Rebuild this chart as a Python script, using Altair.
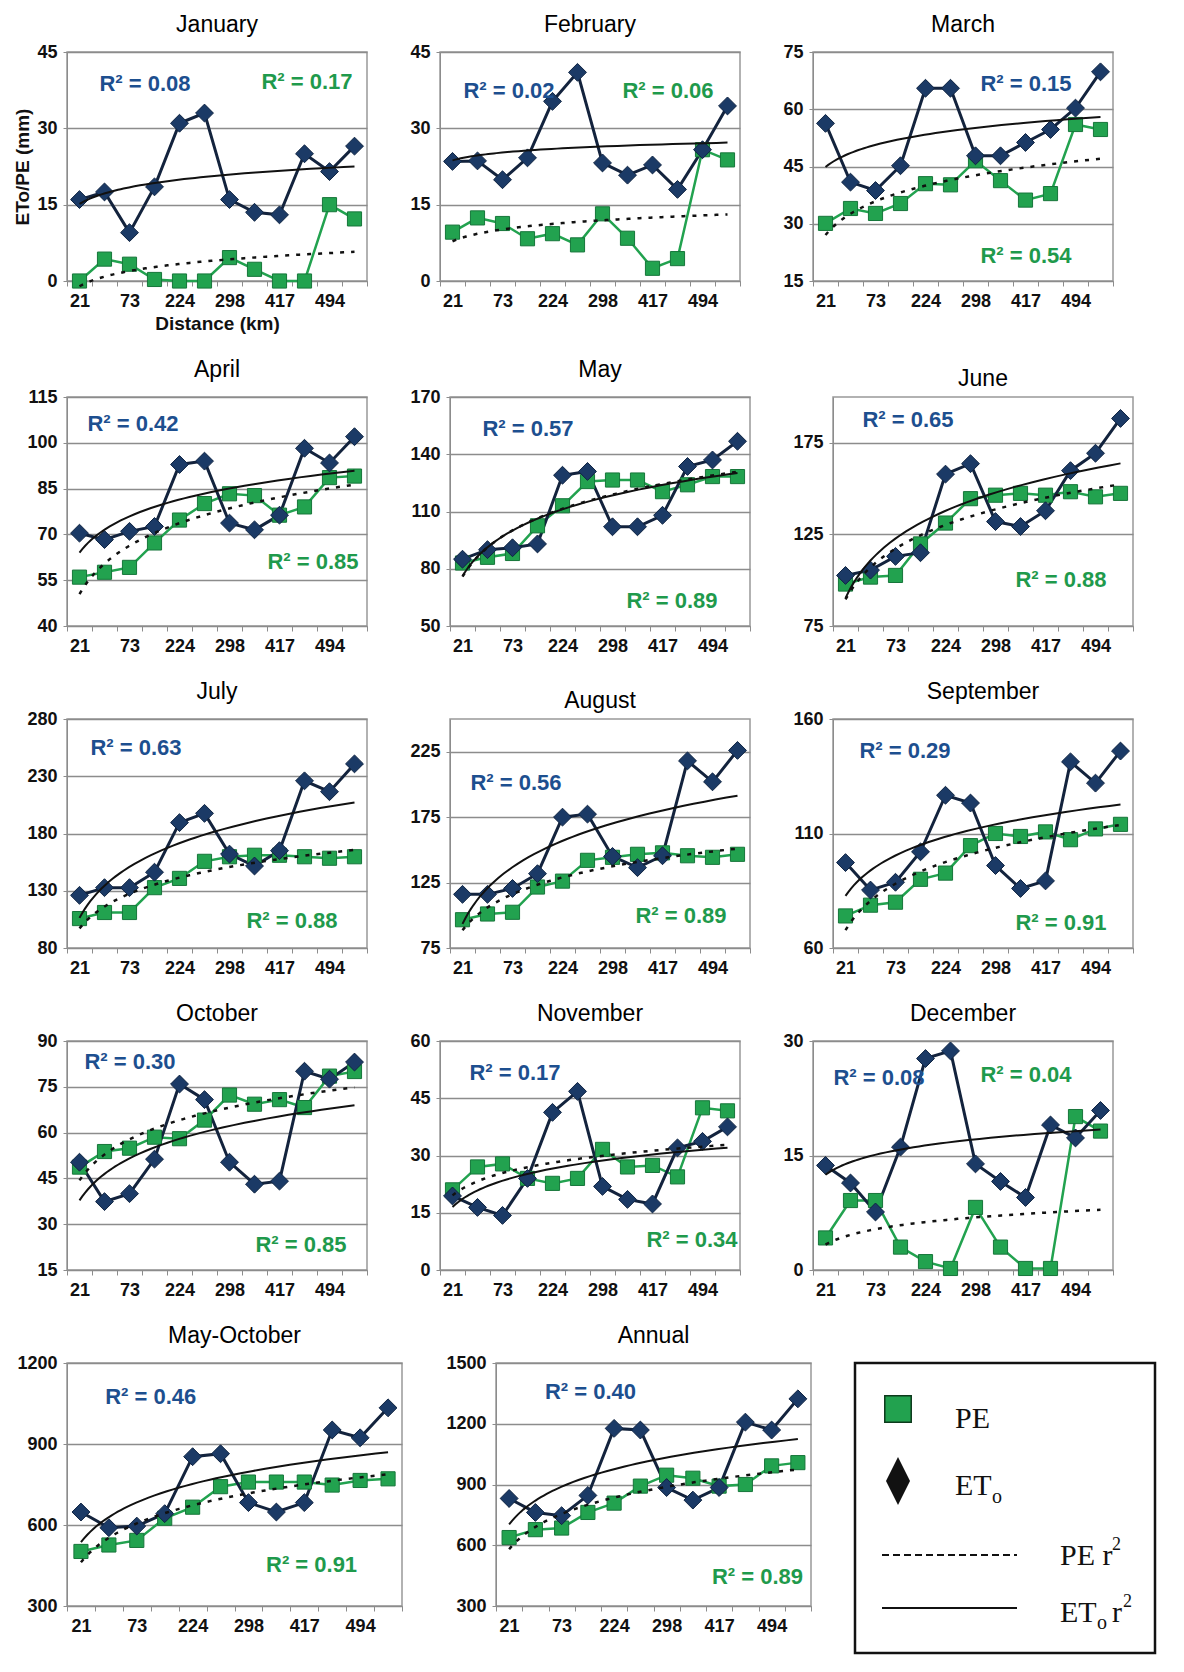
import altair as alt
import pandas as pd

# ---------------- data ----------------
x_index = list(range(1, 13))
x_tick_labels = ["21", "73", "224", "298", "417", "494"]   # every other station

panel_names = ["January", "February", "March", "April", "May", "June",
               "July", "August", "September", "October", "November", "December",
               "May-October", "Annual"]

eto_jan = [16, 17.5, 9.5, 18.5, 31, 33, 16, 13.5, 13, 25, 21.5, 26.5]
pe_jan = [0, 4.3, 3.3, 0.3, 0, 0, 4.6, 2.3, 0, 0, 15, 12.2]
eto_feb = [23.5, 23.6, 19.9, 24.2, 35.3, 41, 23.2, 20.8, 22.8, 18, 25.8, 34.4]
pe_feb = [9.6, 12.4, 11.3, 8.3, 9.3, 7.1, 13.2, 8.4, 2.5, 4.4, 25.8, 23.8]
eto_mar = [56.3, 40.9, 38.7, 45.2, 65.5, 65.5, 47.8, 47.8, 51.3, 54.7, 60.3, 69.8]
pe_mar = [30.1, 34, 32.7, 35.3, 40.5, 40.2, 46.5, 41.3, 36.2, 37.9, 56, 54.7]
eto_apr = [70.4, 68.3, 71, 72.6, 92.9, 94, 73.7, 71.5, 76.3, 98.2, 93.4, 102]
pe_apr = [56, 57.6, 59.2, 67.2, 74.7, 80.1, 83.3, 82.7, 76.3, 79, 88.6, 89.1]
eto_may = [85, 90, 91, 93, 129, 131, 102, 102, 108, 133.6, 137, 146.8]
pe_may = [83, 86, 88, 102.5, 113, 125.7, 126.5, 126.5, 120.4, 124, 128.3, 128.3]
eto_jun = [102.6, 105.5, 113, 115, 157.9, 163.6, 132, 129.3, 137.9, 159.8, 169.3, 188.3]
pe_jun = [97.9, 101.7, 102.6, 119.8, 131.2, 144.5, 146.4, 147.4, 146.4, 148.3, 145.5, 147.4]
eto_jul = [126, 132.7, 132.7, 146.2, 189.5, 197.6, 162, 151.6, 165, 226, 216.5, 240.8]
pe_jul = [105.7, 111, 111, 132.7, 140.8, 155.7, 159.7, 161, 161, 159.7, 158.4, 159.7]
eto_aug = [116, 116, 120.5, 131.8, 175, 177.3, 145, 136.4, 145.5, 218, 202, 226]
pe_aug = [96.6, 101, 102.3, 121.6, 126.1, 142, 144.3, 146.6, 147.7, 145.5, 144.3, 146.6]
eto_sep = [97.3, 85.3, 88.7, 102, 126.7, 123.3, 96, 86, 89.3, 141.3, 132, 146]
pe_sep = [74, 78.7, 80, 90, 92.7, 104.7, 110, 108.7, 110.7, 107.3, 112, 114]
eto_oct = [50.3, 37.4, 40, 51.3, 75.9, 70.8, 50.3, 43.1, 44.1, 80.1, 77.5, 83.1]
pe_oct = [48.7, 53.8, 54.9, 58.5, 58, 64.1, 72.3, 69.3, 70.8, 68.2, 78.5, 80]
eto_nov = [19.4, 16.4, 14.3, 24, 41.3, 46.8, 21.9, 18.5, 17.3, 32, 33.7, 37.5]
pe_nov = [21, 27, 27.8, 24, 22.7, 24, 31.6, 27, 27.4, 24.4, 42.5, 41.7]
eto_dec = [13.7, 11.4, 7.6, 16.1, 27.7, 28.7, 13.9, 11.6, 9.5, 19, 17.3, 20.9]
pe_dec = [4.2, 9.1, 9.1, 3, 1.1, 0.2, 8.2, 3, 0.2, 0.2, 20.1, 18.2]
eto_mayoct = [648, 590, 596, 642, 853, 864, 683, 648, 683, 952, 923, 1034]
pe_mayoct = [502, 526, 543, 625, 666, 742, 759, 759, 759, 748, 765, 771]
eto_annual = [831, 762, 746, 846, 1177, 1169, 885, 823, 885, 1208, 1169, 1323]
pe_annual = [638, 677, 685, 762, 808, 892, 946, 931, 892, 900, 992, 1008]

eto_series = [eto_jan, eto_feb, eto_mar, eto_apr, eto_may, eto_jun, eto_jul,
              eto_aug, eto_sep, eto_oct, eto_nov, eto_dec, eto_mayoct, eto_annual]
pe_series = [pe_jan, pe_feb, pe_mar, pe_apr, pe_may, pe_jun, pe_jul,
             pe_aug, pe_sep, pe_oct, pe_nov, pe_dec, pe_mayoct, pe_annual]

r2_eto = [0.08, 0.02, 0.15, 0.42, 0.57, 0.65, 0.63, 0.56, 0.29, 0.30, 0.17, 0.08, 0.46, 0.40]
r2_pe = [0.17, 0.06, 0.54, 0.85, 0.89, 0.88, 0.88, 0.89, 0.91, 0.85, 0.34, 0.04, 0.91, 0.89]

# ---------------- layout / style (not data) ----------------
y_scales = [(0, 45, 15), (0, 45, 15), (15, 75, 15), (40, 115, 15), (50, 170, 30),
            (75, 200, 50), (80, 280, 50), (75, 250, 50), (60, 160, 50), (15, 90, 15),
            (0, 60, 15), (0, 30, 15), (300, 1200, 300), (300, 1500, 300)]
# relative (x, y) placement of the R² labels inside each plot
eto_lab_pos = [(0.26, 0.14), (0.23, 0.17), (0.71, 0.14), (0.22, 0.12), (0.26, 0.14),
               (0.25, 0.10), (0.23, 0.125), (0.22, 0.28), (0.24, 0.14), (0.21, 0.09),
               (0.25, 0.14), (0.22, 0.16), (0.25, 0.14), (0.30, 0.12)]
pe_lab_pos = [(0.80, 0.13), (0.76, 0.17), (0.71, 0.89), (0.82, 0.72), (0.74, 0.89),
              (0.76, 0.80), (0.75, 0.88), (0.77, 0.86), (0.76, 0.89), (0.78, 0.89),
              (0.84, 0.87), (0.71, 0.15), (0.73, 0.83), (0.83, 0.88)]

FONT = "Liberation Sans, Arial"
SERIF = "Liberation Serif, Times New Roman, serif"
BLUE_TXT = "#1d4f8f"
GREEN_TXT = "#1f9a4c"
NAVY = "#1b3a66"
NAVY_LINE = "#13233d"
GREEN = "#22a24f"
GREEN_DARK = "#16763a"
GRID = "#8c8c8c"

W, H = 300, 229
W_ROW5 = [335, 315]

bounds = [0.5 + i for i in range(13)]
expr_parts = [f"datum.value == {0.5 + 2 * k} ? '{lab}'" for k, lab in enumerate(x_tick_labels)]
x_label_expr = " : ".join(expr_parts) + " : ''"


def make_panel(i, w, h):
    name = panel_names[i]
    eto, pe = eto_series[i], pe_series[i]
    df = pd.DataFrame({"idx": x_index * 2, "val": eto + pe,
                       "series": ["ETo"] * 12 + ["PE"] * 12})
    lo, hi, step = y_scales[i]
    yticks = list(range(lo, hi + 1, step))

    xaxis_kw = dict(values=bounds, labelExpr=x_label_expr, labelOffset=w / 24,
                    grid=False, tickSize=5, tickColor=GRID, domainColor=GRID,
                    labelOverlap=False, labelFlush=False, labelPadding=6)
    yaxis_kw = dict(values=yticks, format="d", grid=True, gridColor=GRID, gridWidth=1.5,
                    tickSize=4, tickColor=GRID, domainColor=GRID, labelPadding=6)
    if i == 0:
        xaxis_kw["title"] = "Distance (km)"
        yaxis_kw["title"] = "ETo/PE (mm)"
    else:
        xaxis_kw["title"] = ""
        yaxis_kw["title"] = ""

    x = alt.X("idx:Q", scale=alt.Scale(domain=[0.5, 12.5], nice=False, zero=False),
              axis=alt.Axis(**xaxis_kw))
    y = alt.Y("val:Q", scale=alt.Scale(domain=[lo, hi], nice=False, zero=False),
              axis=alt.Axis(**yaxis_kw))

    base = alt.Chart(df).encode(x=x, y=y)
    pe_only = base.transform_filter(alt.datum.series == "PE")
    eto_only = base.transform_filter(alt.datum.series == "ETo")

    pe_line = pe_only.mark_line(color=GREEN, strokeWidth=2.5)
    eto_line = eto_only.mark_line(color=NAVY_LINE, strokeWidth=3)
    pe_pts = pe_only.mark_point(shape="square", filled=True, fill=GREEN, stroke=GREEN_DARK,
                                strokeWidth=1, size=200, opacity=1)
    eto_pts = eto_only.mark_point(shape="diamond", filled=True, fill=NAVY, stroke="#0f2442",
                                  strokeWidth=1, size=320, opacity=1)
    pe_trend = pe_only.transform_regression("idx", "val", method="log").mark_line(
        color="#111111", strokeWidth=2.5, strokeDash=[4, 7])
    eto_trend = eto_only.transform_regression("idx", "val", method="log").mark_line(
        color="#111111", strokeWidth=2)

    ex, ey = eto_lab_pos[i]
    px, py = pe_lab_pos[i]
    lab_df = pd.DataFrame({"t": [f"R² = {r2_eto[i]:.2f}", f"R² = {r2_pe[i]:.2f}"]})
    eto_lab = alt.Chart(lab_df.iloc[[0]]).mark_text(
        font=FONT, fontSize=22, fontWeight="bold", color=BLUE_TXT,
        align="center", baseline="middle").encode(
        x=alt.value(ex * w), y=alt.value(ey * h), text="t:N")
    pe_lab = alt.Chart(lab_df.iloc[[1]]).mark_text(
        font=FONT, fontSize=22, fontWeight="bold", color=GREEN_TXT,
        align="center", baseline="middle").encode(
        x=alt.value(px * w), y=alt.value(py * h), text="t:N")

    return alt.layer(pe_line, eto_line, pe_pts, eto_pts, pe_trend, eto_trend,
                     eto_lab, pe_lab).properties(
        width=w, height=h,
        title=alt.TitleParams(name, font=FONT, fontSize=23, fontWeight="normal",
                              color="#000000", offset=6))


def make_legend(w, h):
    one = pd.DataFrame({"k": [0]})
    b = alt.Chart(one)
    sq = b.mark_point(shape="square", filled=True, fill=GREEN, stroke="#0d3a1c",
                      strokeWidth=1.5, size=700, opacity=1).encode(
        x=alt.value(43), y=alt.value(46))
    dia = b.mark_point(shape="M0,-1L0.5,0L0,1L-0.5,0Z", filled=True, fill="#111111",
                       size=2300, opacity=1).encode(x=alt.value(43), y=alt.value(118))
    dash = b.mark_rule(color="#111111", strokeWidth=2, strokeDash=[7, 4]).encode(
        x=alt.value(27), x2=alt.value(162), y=alt.value(192))
    solid = b.mark_rule(color="#111111", strokeWidth=2).encode(
        x=alt.value(27), x2=alt.value(162), y=alt.value(245))

    def txt(s, xx, yy, size=30):
        return b.mark_text(font=SERIF, fontSize=size, color="#111111", align="left",
                           baseline="alphabetic").encode(
            x=alt.value(xx), y=alt.value(yy), text=alt.value(s))

    items = [txt("PE", 100, 65), txt("ET", 100, 132), txt("o", 137, 140, 20),
             txt("PE r", 205, 202), txt("2", 257, 187, 18),
             txt("ET", 205, 259), txt("o", 242, 266, 20), txt("r", 257, 259),
             txt("2", 268, 244, 18)]
    return alt.layer(sq, dia, dash, solid, *items).properties(
        width=w, height=h, view=alt.ViewBackground(stroke="#111111", strokeWidth=2.5))


rows = []
for r in range(4):
    rows.append(alt.hconcat(*[make_panel(3 * r + c, W, H) for c in range(3)], spacing=28))
rows.append(alt.hconcat(make_panel(12, W_ROW5[0], H + 14), make_panel(13, W_ROW5[1], H + 14),
                        make_legend(300, 290), spacing=28))

chart = alt.vconcat(*rows, spacing=24).configure_view(
    stroke="#999999", strokeWidth=1.5).configure_axis(
    labelFont=FONT, labelFontSize=18, labelFontWeight="bold", labelColor="#111111",
    titleFont=FONT, titleFontSize=19, titleFontWeight="bold", titleColor="#111111"
).properties(background="white")

chart.save("out.html", embed_options={"renderer": "svg", "actions": False})
